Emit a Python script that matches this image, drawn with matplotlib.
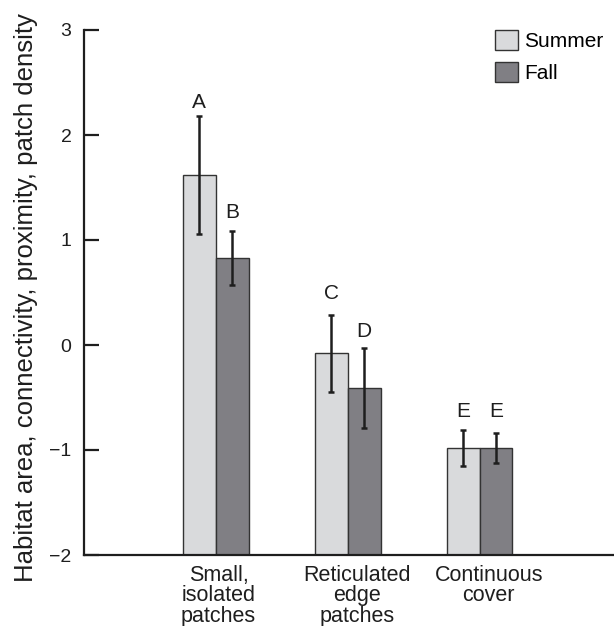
import numpy as np
import matplotlib
matplotlib.use("Agg")
import matplotlib.pyplot as plt

plt.rcParams['font.family'] = ['Liberation Sans', 'DejaVu Sans']

# dane
categories = ["Small,\nisolated\npatches", "Reticulated\nedge\npatches", "Continuous\ncover"]
summer = [1.62, -0.08, -0.98]
fall = [0.83, -0.41, -0.98]
summer_err = [0.56, 0.37, 0.17]
fall_err = [0.26, 0.38, 0.14]
summer_letters = ["A", "C", "E"]
fall_letters = ["B", "D", "E"]
summer_letter_y = [2.31, 0.49, -0.63]
fall_letter_y = [1.26, 0.13, -0.63]
yticks = [-2, -1, 0, 1, 2, 3]

baseline = -2
width = 0.25
x = np.arange(1, len(categories) + 1)

fig = plt.figure(figsize=(6.14, 6.26), dpi=100)
ax = fig.add_axes([84 / 614, 1 - 555 / 626, 1 - 84 / 614, (555 - 30) / 626])

s_h = np.array(summer) - baseline
f_h = np.array(fall) - baseline
ax.bar(x - width / 2, s_h, width, bottom=baseline, color='#d9dadc',
       edgecolor='#333333', linewidth=1.0, label='Summer', zorder=2)
ax.bar(x + width / 2, f_h, width, bottom=baseline, color='#807f84',
       edgecolor='#333333', linewidth=1.0, label='Fall', zorder=2)

ax.errorbar(x - width / 2, summer, yerr=summer_err, fmt='none', ecolor='#1e1e1e',
            elinewidth=1.8, capsize=2.3, capthick=1.8, zorder=3)
ax.errorbar(x + width / 2, fall, yerr=fall_err, fmt='none', ecolor='#1e1e1e',
            elinewidth=1.8, capsize=2.3, capthick=1.8, zorder=3)

for i in range(len(categories)):
    ax.text(x[i] - width / 2, summer_letter_y[i], summer_letters[i],
            ha='center', va='center', fontsize=15, color='#1e1e1e')
    ax.text(x[i] + width / 2, fall_letter_y[i], fall_letters[i],
            ha='center', va='center', fontsize=15, color='#1e1e1e')

ax.set_xlim(0, 4.02)
ax.set_ylim(-2, 3)
ax.set_yticks(yticks)
ax.set_yticklabels([str(t).replace('-', '\u2212') for t in yticks])
# etykiety kategorii lekko przesunięte w prawo, jak w oryginale
ax.set_xticks(x + np.array([0.02, 0.07, 0.07]))
ax.set_xticklabels(categories, fontsize=15.5, linespacing=0.98)

for side in ['top', 'right']:
    ax.spines[side].set_visible(False)
for side in ['left', 'bottom']:
    ax.spines[side].set_linewidth(1.6)
    ax.spines[side].set_color('#1e1e1e')

ax.tick_params(axis='y', direction='in', length=11, width=1.6, pad=9,
               labelsize=14, colors='#1e1e1e')
ax.tick_params(axis='x', length=0, pad=7, colors='#1e1e1e')

ax.set_ylabel("Habitat area, connectivity, proximity, patch density",
              fontsize=18.5, color='#1e1e1e')
ax.yaxis.set_label_coords(-0.086, 0.49)

leg = ax.legend(loc='upper left', bbox_to_anchor=(495 / 614, 1 - 30 / 626),
                bbox_transform=fig.transFigure, frameon=False, fontsize=15,
                handlelength=1.1, handleheight=1.1, handletextpad=0.3,
                labelspacing=0.5, borderpad=0, borderaxespad=0)

fig.savefig("out.png", dpi=100)
